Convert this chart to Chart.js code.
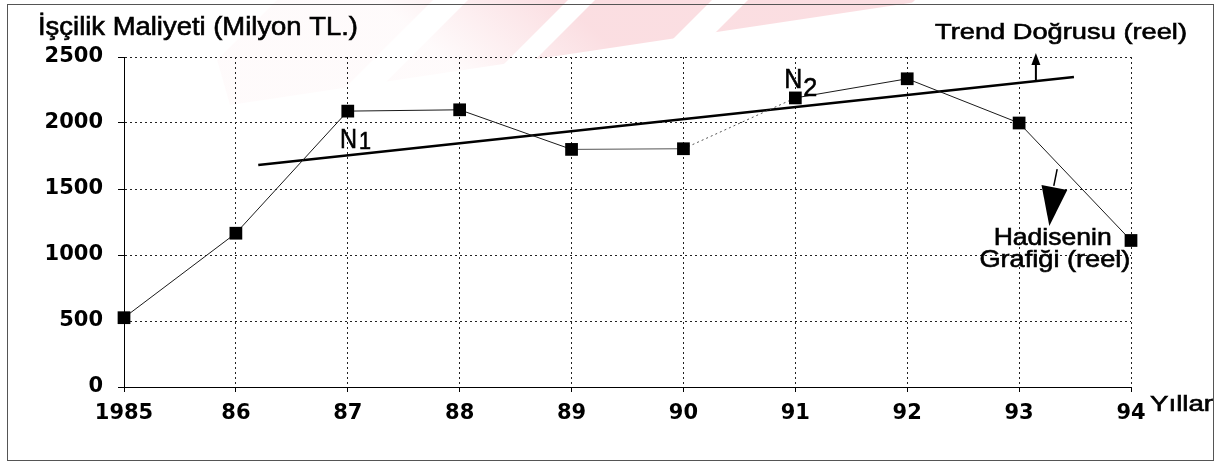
<!DOCTYPE html>
<html>
<head>
<meta charset="utf-8">
<script src="https://cdn.jsdelivr.net/npm/chart.js@4/dist/chart.umd.min.js"></script>
<style>
  html, body { margin: 0; padding: 0; background: #fff; overflow: hidden; }
  canvas { display: block; }
</style>
</head>
<body>
<canvas id="c" width="1226" height="462"></canvas>
<script>
// Yearly labour cost (million TL) and its fitted trend line
const years = ['1985', '86', '87', '88', '89', '90', '91', '92', '93', '94'];
const laborCost = [525, 1165, 2090, 2100, 1800, 1805, 2190, 2335, 2000, 1110];
const trendYearIndex = [1.2, 8.49];
const trendCost = [1682, 2348];
const yMin = 0, yMax = 2500, yStep = 500;

const costPoints = laborCost.map((v, i) => ({ x: i, y: v }));
const trendPoints = trendYearIndex.map((x, i) => ({ x: x, y: trendCost[i] }));

const SANS = '"Liberation Sans", Arial, sans-serif';

// Draw text stretched horizontally to a given width, slightly emboldened
function fitText(ctx, text, x, baseline, size, width, align) {
  ctx.save();
  ctx.font = size + 'px ' + SANS;
  ctx.fillStyle = '#000';
  ctx.strokeStyle = '#000';
  ctx.lineWidth = 0.6;
  ctx.textBaseline = 'alphabetic';
  ctx.textAlign = 'left';
  const w = ctx.measureText(text).width;
  const sx = width ? width / w : 1;
  let left = x;
  if (align === 'center') left = x - (w * sx) / 2;
  if (align === 'right') left = x - w * sx;
  ctx.translate(left, baseline);
  ctx.scale(sx, 1);
  ctx.fillText(text, 0, 0);
  ctx.strokeText(text, 0, 0);
  ctx.restore();
}

const decorations = {
  id: 'decorations',
  beforeDraw(chart) {
    const ctx = chart.ctx;
    ctx.save();
    ctx.fillStyle = '#fff';
    ctx.fillRect(0, 0, chart.width, chart.height);
    // pale diagonal watermark bands along the top edge
    ctx.beginPath();
    ctx.moveTo(200, 0);
    ctx.lineTo(930, 0);
    ctx.lineTo(230, 105);
    ctx.closePath();
    ctx.clip();
    const g = ctx.createLinearGradient(560, 0, 480, 90);
    g.addColorStop(0, 'rgba(248,200,206,0.6)');
    g.addColorStop(1, 'rgba(248,200,206,0.08)');
    ctx.fillStyle = g;
    const bands = [[277, 433], [468, 568], [595, 712], [748, 915]];
    bands.forEach(([a, b]) => {
      ctx.beginPath();
      ctx.moveTo(a, 0);
      ctx.lineTo(b, 0);
      ctx.lineTo(b - 110, 110);
      ctx.lineTo(a - 110, 110);
      ctx.closePath();
      ctx.fill();
    });
    ctx.restore();
  },
  afterDraw(chart) {
    const ctx = chart.ctx;
    const xs = chart.scales.x, ys = chart.scales.y;
    const px = v => xs.getPixelForValue(v);
    const py = v => ys.getPixelForValue(v);

    ctx.save();
    // outer frame
    ctx.strokeStyle = '#555';
    ctx.lineWidth = 1;
    ctx.strokeRect(7.5, 4.5, 1206, 456);

    // titles
    fitText(ctx, 'İşçilik Maliyeti (Milyon TL.)', 38, 35, 25, 320);
    fitText(ctx, 'Trend Doğrusu (reel)', 935, 39, 22, 252);
    fitText(ctx, 'Yıllar', 1150, 411, 22, 63);

    // N1 and N2 markers on the trend
    fitText(ctx, 'N', px(1.93), py(1812), 28, 17);
    fitText(ctx, '1', px(2.10), py(1800), 23, 12);
    fitText(ctx, 'N', px(5.9), py(2268), 28, 18);
    fitText(ctx, '2', px(6.07), py(2205), 26, 14);

    // arrow pointing to the trend label
    const ax = px(8.15);
    const trendAt = trendCost[0] + (8.15 - trendYearIndex[0]) * (trendCost[1] - trendCost[0]) / (trendYearIndex[1] - trendYearIndex[0]);
    ctx.strokeStyle = '#000';
    ctx.fillStyle = '#000';
    ctx.lineWidth = 2;
    ctx.beginPath();
    ctx.moveTo(ax, py(trendAt));
    ctx.lineTo(ax, py(2450));
    ctx.stroke();
    ctx.beginPath();
    ctx.moveTo(ax - 4.5, py(2440));
    ctx.lineTo(ax + 4.5, py(2440));
    ctx.lineTo(ax, py(2530));
    ctx.closePath();
    ctx.fill();

    // arrow pointing to the series label
    ctx.lineWidth = 1.5;
    ctx.beginPath();
    ctx.moveTo(px(8.34), py(1651));
    ctx.lineTo(px(8.31), py(1523));
    ctx.stroke();
    ctx.beginPath();
    ctx.moveTo(px(8.20), py(1530));
    ctx.lineTo(px(8.43), py(1492));
    ctx.lineTo(px(8.27), py(1220));
    ctx.closePath();
    ctx.fill();

    fitText(ctx, 'Hadisenin', px(8.30), py(1076), 24, 118, 'center');
    fitText(ctx, 'Grafiği (reel)', px(8.32), py(909), 24, 151, 'center');
    ctx.restore();
  }
};

new Chart(document.getElementById('c'), {
  type: 'line',
  data: {
    datasets: [
      {
        data: costPoints,
        borderColor: '#1a1a1a',
        borderWidth: 1,
        pointStyle: 'rect',
        pointRadius: 9,
        pointBackgroundColor: '#000',
        pointBorderColor: '#000',
        pointBorderWidth: 0,
        tension: 0,
        clip: false,
        segment: {
          borderDash: c => (c.p0DataIndex === 5 ? [2, 3] : undefined),
          borderColor: c => (c.p0DataIndex === 5 || c.p0DataIndex === 4 ? '#555' : undefined)
        }
      },
      {
        data: trendPoints,
        borderColor: '#000',
        borderWidth: 2.5,
        pointRadius: 0,
        tension: 0,
        clip: false
      }
    ]
  },
  plugins: [decorations],
  options: {
    responsive: false,
    animation: false,
    devicePixelRatio: 1,
    layout: { padding: { left: 0, top: 57, right: 95, bottom: 0 } },
    plugins: { legend: { display: false }, tooltip: { enabled: false }, title: { display: false } },
    scales: {
      x: {
        type: 'linear',
        min: 0,
        max: years.length - 1,
        afterFit: s => { s.height = 75; },
        afterBuildTicks: s => { s.ticks = years.map((_, i) => ({ value: i })); },
        ticks: {
          autoSkip: false,
          maxRotation: 0,
          padding: 9,
          color: '#000',
          font: { family: '"DejaVu Sans", sans-serif', size: 21, weight: 'bold' },
          callback: v => years[v]
        },
        grid: {
          color: '#222',
          lineWidth: 1,
          drawTicks: true,
          tickLength: 5,
          tickBorderDash: [],
          tickColor: '#000'
        },
        border: { display: true, color: '#000', width: 1, dash: [2, 3] }
      },
      y: {
        min: yMin,
        max: yMax,
        afterFit: s => { s.width = 124; },
        ticks: {
          stepSize: yStep,
          padding: 15,
          color: '#000',
          font: { family: '"DejaVu Sans", sans-serif', size: 21, weight: 'bold' },
          callback: v => String(v)
        },
        grid: {
          color: '#222',
          lineWidth: 1,
          drawTicks: true,
          tickLength: 6,
          tickBorderDash: [],
          tickColor: '#000'
        },
        border: { display: true, color: '#000', width: 1, dash: [2, 3] }
      }
    }
  }
});
</script>
</body>
</html>
